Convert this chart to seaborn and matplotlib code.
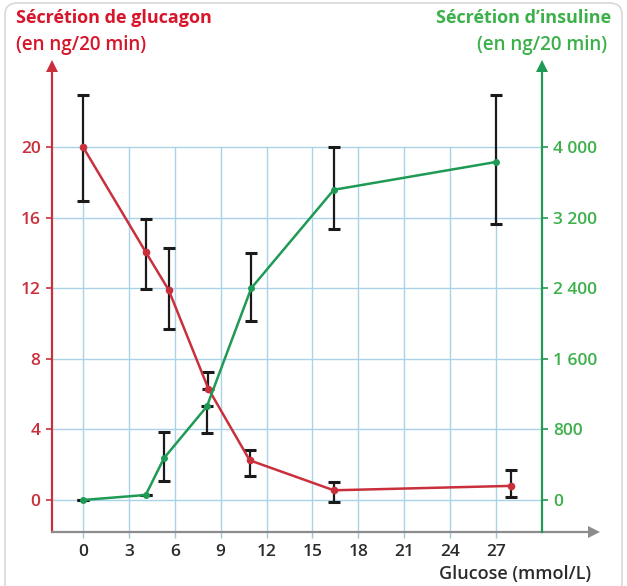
import matplotlib
matplotlib.use("Agg")
import matplotlib.pyplot as plt
from matplotlib.patches import FancyBboxPatch
import seaborn as sns
import pandas as pd
import numpy as np

# ---------------- data ----------------
glucagon_x = [0, 4.1, 5.6, 8.2, 10.9, 16.4, 28.0]
glucagon = [20.0, 14.05, 11.9, 6.3, 2.25, 0.55, 0.8]
glucagon_err_low = [3.05, 2.1, 2.2, 0.0, 0.9, 0.65, 0.65]
glucagon_err_high = [2.95, 1.85, 2.4, 0.95, 0.6, 0.45, 0.9]

insulin_x = [0, 4.1, 5.3, 8.1, 11.0, 16.4, 27.0]
insulin = [0, 57, 476, 1060, 2400, 3515, 3830]
insulin_err_low = [0, 0, 266, 300, 371, 442, 706]
insulin_err_high = [0, 0, 297, 0, 397, 480, 760]

x_ticks = [0, 3, 6, 9, 12, 15, 18, 21, 24, 27]
left_ticks = [0, 4, 8, 12, 16, 20]
right_ticks = [0, 800, 1600, 2400, 3200, 4000]
right_labels = ["0", "800", "1 600", "2 400", "3 200", "4 000"]

left_title = ["Sécrétion de glucagon", "(en ng/20 min)"]
right_title = ["Sécrétion d\u2019insuline", "(en ng/20 min)"]
x_title = "Glucose (mmol/L)"

RED = "#c9303c"
RED_TXT = "#d7152b"
GREEN = "#1f9a55"
GREEN_TXT = "#3cb04a"
GRID = "#a9d3e8"
AXGRAY = "#8c8c8c"

sns.set_theme(style="white")
plt.rcParams["font.family"] = ["Open Sans", "DejaVu Sans"]

W, H = 627, 586
fig = plt.figure(figsize=(W / 100, H / 100), dpi=100)
fig.patch.set_facecolor("white")

# rounded frame
frame = FancyBboxPatch((5 / W, -0.05), (617 / W), 1.05 - 3 / H,
                       boxstyle="round,pad=0,rounding_size=0.02",
                       transform=fig.transFigure, facecolor="none",
                       edgecolor="#d8d8d8", linewidth=1.2)
fig.patches.append(frame)

left_px, right_px, bottom_px, top_px = 51.7, 541.7, 532, 66
ax = fig.add_axes([left_px / W, (H - bottom_px) / H,
                   (right_px - left_px) / W, (bottom_px - top_px) / H])
ax.set_facecolor("none")

y_per_px = 4 / 70.6
ylo = -(bottom_px - 500) * y_per_px
yhi = (500 - top_px) * y_per_px
ax.set_xlim(-2.05, 30)
ax.set_ylim(ylo, yhi)

# grid
ax.hlines(left_ticks, -2.05, 30, color=GRID, lw=1, zorder=0)
ax.vlines(x_ticks, ylo, 20, color=GRID, lw=1, zorder=0)

# glucagon
gdf = pd.DataFrame({"x": glucagon_x, "y": glucagon})
sns.lineplot(data=gdf, x="x", y="y", ax=ax, sort=False, color=RED,
             lw=1.8, marker="o", markersize=5.5, markeredgewidth=0, zorder=4)
ax.errorbar(glucagon_x, glucagon, yerr=[glucagon_err_low, glucagon_err_high],
            fmt="none", ecolor="#1a1a1a", elinewidth=1.6, capsize=4.5,
            capthick=2.2, zorder=3)

ax2 = ax.twinx()
ax2.set_ylim(ylo * 200, yhi * 200)
idf = pd.DataFrame({"x": insulin_x, "y": insulin})
sns.lineplot(data=idf, x="x", y="y", ax=ax2, sort=False, color=GREEN,
             lw=1.8, marker="o", markersize=5, markeredgewidth=0, zorder=4)
ax2.errorbar(insulin_x, insulin, yerr=[insulin_err_low, insulin_err_high],
             fmt="none", ecolor="#1a1a1a", elinewidth=1.6, capsize=4.5,
             capthick=2.2, zorder=3)
ax2.set_xlim(-2.05, 30)

# spines
for s in ["top", "right", "bottom"]:
    ax.spines[s].set_visible(False)
ax.spines["left"].set_color(RED)
ax.spines["left"].set_linewidth(1.6)
for s in ["top", "left", "bottom"]:
    ax2.spines[s].set_visible(False)
ax2.spines["right"].set_color(GREEN)
ax2.spines["right"].set_linewidth(1.6)

# bottom axis with arrow
ext = (600 - left_px) / (right_px - left_px)
ax.plot([0, ext - 0.01], [0, 0], transform=ax.transAxes, color=AXGRAY,
        lw=1.6, clip_on=False, zorder=5)
ax.plot(ext - 0.012, 0, marker=">", color=AXGRAY, markersize=8,
        transform=ax.transAxes, clip_on=False, markeredgewidth=0)
ax.plot(0, 1, marker="^", color=RED, markersize=8, transform=ax.transAxes,
        clip_on=False, markeredgewidth=0)
ax2.plot(1, 1, marker="^", color=GREEN, markersize=8, transform=ax2.transAxes,
         clip_on=False, markeredgewidth=0)

# ticks
TS = 12.5
ax.set_xticks(x_ticks)
ax.set_xticklabels([str(t) for t in x_ticks])
ax.set_yticks(left_ticks)
ax.set_yticklabels([str(t) for t in left_ticks])
ax.tick_params(axis="y", colors=RED, labelcolor=RED, direction="out",
               length=4, width=1.2, pad=4, labelsize=TS, left=True)
ax.tick_params(axis="x", colors="#9fc4d6", labelcolor="#2b2b2b",
               direction="out", length=4, width=1, pad=5, labelsize=TS,
               bottom=True)
ax2.set_yticks(right_ticks)
ax2.set_yticklabels(right_labels)
ax2.tick_params(axis="y", colors=GREEN, labelcolor=GREEN_TXT, direction="out",
                length=4, width=1.2, pad=4, labelsize=TS, right=True)
ax.set_xlabel("")
ax.set_ylabel("")
ax2.set_xlabel("")
ax2.set_ylabel("")
for lab in ax.get_xticklabels() + ax.get_yticklabels() + ax2.get_yticklabels():
    lab.set_fontweight("semibold")

# titles
fig.text(16 / W, 1 - 18 / H, left_title[0], color=RED_TXT, fontsize=13,
         fontweight="bold", ha="left", va="center")
fig.text(16 / W, 1 - 45 / H, left_title[1], color=RED_TXT, fontsize=13.5,
         fontweight="semibold", ha="left", va="center")
fig.text(611 / W, 1 - 18 / H, right_title[0], color=GREEN_TXT, fontsize=13,
         fontweight="bold", ha="right", va="center")
fig.text(607 / W, 1 - 45 / H, right_title[1], color=GREEN_TXT, fontsize=13.5,
         fontweight="semibold", ha="right", va="center")
fig.text(591 / W, 1 - 574 / H, x_title, color="#2b2b2b", fontsize=13,
         fontweight="semibold", ha="right", va="center")

fig.savefig("out.png", dpi=100)
